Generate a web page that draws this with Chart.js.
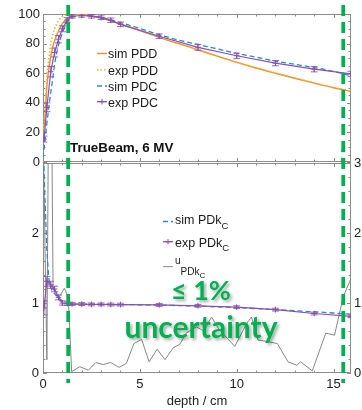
<!DOCTYPE html>
<html>
<head>
<meta charset="utf-8">
<script src="https://cdn.jsdelivr.net/npm/chart.js@4.4.1/dist/chart.umd.min.js"></script>
<style>
  html, body { margin: 0; padding: 0; background: #fff; }
  #wrap { position: relative; width: 362px; height: 410px; overflow: hidden; }
  #topChart { position: absolute; left: 0; top: 0; }
  #botChart { position: absolute; left: 0; top: 150px; }
  #notes { position: absolute; left: 0; top: 0; }
</style>
</head>
<body>
<div id="wrap">
  <canvas id="topChart" width="362" height="175"></canvas>
  <canvas id="botChart" width="362" height="260"></canvas>
  <svg id="notes" width="362" height="410" font-family="'Liberation Sans', Arial, sans-serif">
    <defs>
      <filter id="shadow" x="-10%" y="-20%" width="130%" height="160%">
        <feDropShadow dx="2" dy="2" stdDeviation="1.6" flood-color="#000" flood-opacity="0.35"/>
      </filter>
    </defs>
    <!-- top legend -->
    <g font-size="12.5" fill="#1a1a1a">
      <line x1="97" y1="53.5" x2="107" y2="53.5" stroke="#f28a2e" stroke-width="1.4"/>
      <text x="108" y="58.3">sim PDD</text>
      <line x1="97" y1="70" x2="107" y2="70" stroke="#edb33c" stroke-width="1.6" stroke-dasharray="1.5,2"/>
      <text x="108" y="75">exp PDD</text>
      <line x1="97" y1="86" x2="107" y2="86" stroke="#2b8ad3" stroke-width="1.4" stroke-dasharray="5,3"/>
      <text x="108" y="90.7">sim PDC</text>
      <line x1="97" y1="101.7" x2="107" y2="101.7" stroke="#8b4fae" stroke-width="1.3"/>
      <path d="M102 99v5.4M99.3 101.7h5.4" stroke="#8b4fae" stroke-width="1"/>
      <text x="108" y="106.7">exp PDC</text>
    </g>
    <text x="70" y="152" font-size="13.4" font-weight="bold" fill="#111">TrueBeam, 6 MV</text>
    <!-- bottom legend -->
    <g font-size="12.5" fill="#1a1a1a">
      <line x1="163" y1="221.5" x2="173" y2="221.5" stroke="#2b8ad3" stroke-width="1.4" stroke-dasharray="5,3"/>
      <text x="175" y="224">sim PDk<tspan font-size="9.5" dy="4.5">C</tspan></text>
      <line x1="163" y1="241.7" x2="173" y2="241.7" stroke="#8b4fae" stroke-width="1.3"/>
      <path d="M168 239v5.4M165.3 241.7h5.4" stroke="#8b4fae" stroke-width="1"/>
      <text x="175" y="246.7">exp PDk<tspan font-size="9.5" dy="4.5">C</tspan></text>
      <line x1="163" y1="266.7" x2="173" y2="266.7" stroke="#8a8a8a" stroke-width="1"/>
      <text x="175" y="263.5" font-size="10">u<tspan font-size="10" dy="11">PDk</tspan><tspan font-size="8" dy="3.5">C</tspan></text>
    </g>
    <!-- green annotation -->
    <g font-family="Lato, 'Open Sans', sans-serif" font-weight="bold" fill="#00b050" text-anchor="middle" filter="url(#shadow)">
      <text x="201" y="300" font-size="27">≤ 1%</text>
      <text x="201" y="338" font-size="30">uncertainty</text>
    </g>
  </svg>
</div>
<script>
// axis ticks
const xTicks = [0, 5, 10, 15];
const topTicks = [0, 20, 40, 60, 80, 100];
const botTicks = [0, 1, 2, 3];
// depths of the green marker lines (cm)
const markDepths = [1.3, 15.5];

// simulated curves, depth in cm
const simDepth = [0, 0.1, 0.2, 0.3, 0.4, 0.5, 0.6, 0.8, 1.0, 1.2, 1.4, 1.6, 2.0, 2.5, 3, 4, 5, 6, 7, 8, 9, 10, 11, 12, 13, 14, 15, 15.9];
const simPDD = [20, 30, 51, 63, 71, 77.5, 82, 88.5, 93.5, 96.5, 98.6, 99.7, 99.8, 98.8, 97.2, 93.2, 88.8, 84.2, 80, 75.8, 71.5, 67.3, 63.5, 60, 56.6, 53.3, 50.2, 47.8];
const expPDD = [22, 34, 56, 70, 80, 86, 90, 95.3, 98.3, 99.5, 100, 100, 99.7, 98.7, 97.2, 93.3, 89, 84.4, 80.1, 75.9, 71.6, 67.4, 63.6, 60.1, 56.7, 53.4, 50.3, 47.9];
const simPDC = [3, 14, 26, 37, 47, 56, 66, 79, 87, 93.5, 96.6, 98.2, 99, 98.7, 97.8, 94.2, 90.2, 86, 82.4, 79.4, 76.4, 73.4, 70.8, 68.2, 66, 63.8, 61.2, 58.3];
const simPDk = [3.3, 2.5, 1.75, 1.35, 1.22, 1.16, 1.13, 1.08, 1.02, 1.0, 0.99, 0.985, 0.985, 0.983, 0.98, 0.978, 0.975, 0.97, 0.963, 0.955, 0.945, 0.935, 0.92, 0.905, 0.89, 0.875, 0.857, 0.84];

// measured points with error bars
const expDepth = [0.05, 0.2, 0.4, 0.6, 0.8, 1.0, 1.25, 1.5, 2.0, 2.5, 3.0, 3.5, 4.0, 6, 8, 10, 12, 14, 15.9];
const expPDC = [15.5, 37, 61, 74, 83, 90, 96, 98.5, 99, 98.5, 97.5, 95.8, 93, 85, 77.5, 71.8, 66.8, 62.7, 59.5];
const expPDCErr = [2, 3, 3.5, 3, 2.5, 2, 1.5, 1.2, 1.2, 1.2, 1.2, 1.5, 1.5, 1.5, 2, 1.8, 1.8, 1.8, 1.8];
const expPDk = [0.93, 1.31, 1.26, 1.2, 1.08, 1.0, 0.99, 0.985, 0.985, 0.98, 0.98, 0.978, 0.977, 0.972, 0.96, 0.94, 0.905, 0.85, 0.81];
const expPDkErr = [0.1, 0.07, 0.05, 0.04, 0.035, 0.03, 0.025, 0.02, 0.02, 0.02, 0.02, 0.02, 0.02, 0.02, 0.02, 0.02, 0.02, 0.02, 0.02];

// uncertainty of PDk_C (right axis)
const uDepth = [0.0, 0.2, 0.28, 0.45, 0.52, 0.8, 1.1, 1.3, 1.48, 1.9, 2.34, 2.73, 3.11, 3.49, 3.93, 4.31, 4.69, 5.09, 5.48, 5.89, 6.3, 6.72, 7.06, 7.4, 7.92, 8.3, 8.7, 9.1, 9.5, 9.9, 10.5, 10.76, 11.1, 11.6, 12.1, 12.65, 13.1, 13.3, 13.9, 14.6, 15.05, 15.5, 15.9];
const uVal = [3.6, 0.19, 3.6, 3.6, 1.2, 1.07, 1.21, 1.09, 0.02, 0.09, 0.04, 0.15, 0.12, 0.15, 0.08, 0.14, 0.42, 0.48, 0.16, 0.34, 0.19, 0.36, 0.41, 0.57, 0.66, 0.6, 0.8, 0.62, 0.5, 0.38, 0.7, 0.8, 0.47, 0.45, 0.42, 0.16, 0.11, 0.16, 0.03, 0.57, 0.54, 1.09, 1.35];

const orange = '#f28a2e';
const yellow = '#edb33c';
const blue = '#2b8ad3';
const purple = '#8b4fae';
const gray = '#7a7a7a';
const green = '#00b050';

Chart.defaults.font.family = "'Liberation Sans', Arial, sans-serif";
Chart.defaults.font.size = 13;
Chart.defaults.color = '#222';

function pts(xs, ys) {
  return xs.map((x, i) => ({ x: x, y: ys[i] }));
}

// box around the plot with inward tick marks
const frame = {
  id: 'frame',
  beforeDatasetsDraw(chart, args, opts) {
    const { ctx, chartArea: a } = chart;
    const xs = chart.scales.x, ys = chart.scales.y;
    ctx.save();
    ctx.strokeStyle = '#8c8c8c';
    ctx.lineWidth = 1;
    ctx.strokeRect(a.left + 0.5, a.top + 0.5, a.right - a.left - 1, a.bottom - a.top - 1);
    ctx.beginPath();
    for (let v = 0; v <= xs.max + 1e-6; v += opts.xMinor) {
      const px = Math.round(xs.getPixelForValue(v)) + 0.5;
      const len = Math.abs(v % opts.xMajor) < 1e-6 ? 4 : 2.5;
      ctx.moveTo(px, a.bottom); ctx.lineTo(px, a.bottom - len);
      ctx.moveTo(px, a.top); ctx.lineTo(px, a.top + len);
    }
    for (let v = 0; v <= ys.max + 1e-6; v += opts.yMinor) {
      const py = Math.round(ys.getPixelForValue(v)) + 0.5;
      const len = Math.abs((v / opts.yMajor) - Math.round(v / opts.yMajor)) < 1e-6 ? 4 : 2.5;
      ctx.moveTo(a.left, py); ctx.lineTo(a.left + len, py);
      ctx.moveTo(a.right, py); ctx.lineTo(a.right - len, py);
    }
    ctx.stroke();
    ctx.restore();
  }
};

const errorBars = {
  id: 'errorBars',
  afterDatasetsDraw(chart) {
    const { ctx, chartArea: a } = chart;
    chart.data.datasets.forEach((ds, i) => {
      if (!ds.errors) return;
      const meta = chart.getDatasetMeta(i);
      const ys = chart.scales[meta.yAxisID];
      ctx.save();
      ctx.beginPath();
      ctx.rect(a.left, a.top, a.right - a.left, a.bottom - a.top);
      ctx.clip();
      ctx.strokeStyle = 'rgba(139,79,174,0.85)';
      ctx.lineWidth = 1;
      ctx.beginPath();
      meta.data.forEach((pt, j) => {
        const v = ds.data[j].y, e = ds.errors[j];
        const y1 = ys.getPixelForValue(v - e), y2 = ys.getPixelForValue(v + e);
        ctx.moveTo(pt.x, y1); ctx.lineTo(pt.x, y2);
        ctx.moveTo(pt.x - 3.5, y1); ctx.lineTo(pt.x + 3.5, y1);
        ctx.moveTo(pt.x - 3.5, y2); ctx.lineTo(pt.x + 3.5, y2);
      });
      ctx.stroke();
      ctx.restore();
    });
  }
};

// dashed green vertical lines, given in page coordinates
const marks = {
  id: 'marks',
  afterDraw(chart, args, opts) {
    const ctx = chart.ctx;
    const xs = chart.scales.x;
    ctx.save();
    ctx.strokeStyle = green;
    ctx.lineWidth = 3.6;
    ctx.setLineDash([11, 6]);
    ctx.shadowColor = 'rgba(0,80,30,0.25)';
    ctx.shadowBlur = 2;
    markDepths.forEach(d => {
      const px = xs.getPixelForValue(d);
      ctx.beginPath();
      ctx.moveTo(px, opts.from - opts.offset);
      ctx.lineTo(px, opts.to - opts.offset);
      ctx.stroke();
    });
    ctx.restore();
  }
};

const axisFont = { family: "'Liberation Sans', Arial, sans-serif", size: 13 };

new Chart(document.getElementById('topChart'), {
  type: 'line',
  data: {
    datasets: [
      { label: 'exp PDC', data: pts(expDepth, expPDC), errors: expPDCErr, borderColor: purple, backgroundColor: purple,
        borderWidth: 1.2, pointStyle: 'cross', pointRadius: 2.8, pointBorderWidth: 1, pointBorderColor: purple, tension: 0, order: 0, clip: 0 },
      { label: 'sim PDC', data: pts(simDepth, simPDC), borderColor: blue, borderDash: [5, 3], borderWidth: 1.3,
        pointRadius: 0, cubicInterpolationMode: 'monotone', order: 1, clip: 0 },
      { label: 'exp PDD', data: pts(simDepth, expPDD), borderColor: yellow, borderDash: [1.5, 2], borderWidth: 1.6,
        pointRadius: 0, cubicInterpolationMode: 'monotone', order: 2, clip: 0 },
      { label: 'sim PDD', data: pts(simDepth, simPDD), borderColor: orange, borderWidth: 1.4,
        pointRadius: 0, cubicInterpolationMode: 'monotone', order: 3, clip: 0 }
    ]
  },
  options: {
    responsive: false,
    animation: false,
    devicePixelRatio: 1,
    layout: { padding: { top: 14, right: 11, bottom: 13, left: 0 } },
    plugins: {
      legend: { display: false },
      tooltip: { enabled: false },
      frame: { xMinor: 1, xMajor: 5, yMinor: 5, yMajor: 20 },
      marks: { from: 5, to: 163, offset: 0 }
    },
    scales: {
      x: { type: 'linear', min: 0, max: 15.9, display: false },
      y: {
        min: 0, max: 100,
        afterFit: s => { s.width = 43; },
        afterBuildTicks: s => { s.ticks = topTicks.map(v => ({ value: v })); },
        ticks: { padding: 3, color: '#222', font: axisFont },
        grid: { display: false, drawTicks: false },
        border: { display: false }
      }
    }
  },
  plugins: [frame, errorBars, marks]
});

new Chart(document.getElementById('botChart'), {
  type: 'line',
  data: {
    datasets: [
      { label: 'exp PDkC', data: pts(expDepth, expPDk), errors: expPDkErr, borderColor: purple, backgroundColor: purple,
        borderWidth: 1.2, pointStyle: 'cross', pointRadius: 2.8, pointBorderWidth: 1, pointBorderColor: purple, tension: 0, order: 0, clip: 0 },
      { label: 'sim PDkC', data: pts(simDepth, simPDk), borderColor: blue, borderDash: [5, 3], borderWidth: 1.3,
        pointRadius: 0, tension: 0, order: 1, clip: 0 },
      { label: 'u PDkC', data: pts(uDepth, uVal), yAxisID: 'y2', borderColor: gray, borderWidth: 0.9,
        pointRadius: 0, tension: 0, order: 2, clip: 0 }
    ]
  },
  options: {
    responsive: false,
    animation: false,
    devicePixelRatio: 1,
    layout: { padding: { top: 13, right: 0, bottom: 0, left: 0 } },
    plugins: {
      legend: { display: false },
      tooltip: { enabled: false },
      frame: { xMinor: 1, xMajor: 5, yMinor: 0.2, yMajor: 1 },
      marks: { from: 5, to: 383, offset: 150 }
    },
    scales: {
      x: {
        type: 'linear', min: 0, max: 15.9,
        afterFit: s => { s.height = 37; },
        afterBuildTicks: s => { s.ticks = xTicks.map(v => ({ value: v })); },
        ticks: { padding: 4, color: '#222', font: axisFont },
        grid: { display: false, drawTicks: false },
        border: { display: false },
        title: { display: true, text: 'depth / cm', color: '#222', font: axisFont, padding: { top: 0, bottom: 1 } }
      },
      y: {
        position: 'left', min: 0, max: 3,
        afterFit: s => { s.width = 43; },
        afterBuildTicks: s => { s.ticks = botTicks.map(v => ({ value: v })); },
        ticks: { padding: 4, color: '#222', font: axisFont, callback: v => (v === 3 ? '' : v) },
        grid: { display: false, drawTicks: false },
        border: { display: false }
      },
      y2: {
        position: 'right', min: 0, max: 3,
        afterFit: s => { s.width = 11; },
        afterBuildTicks: s => { s.ticks = botTicks.map(v => ({ value: v })); },
        ticks: { padding: 3, color: '#222', font: axisFont },
        grid: { display: false, drawTicks: false },
        border: { display: false }
      }
    }
  },
  plugins: [frame, errorBars, marks]
});
</script>
</body>
</html>
